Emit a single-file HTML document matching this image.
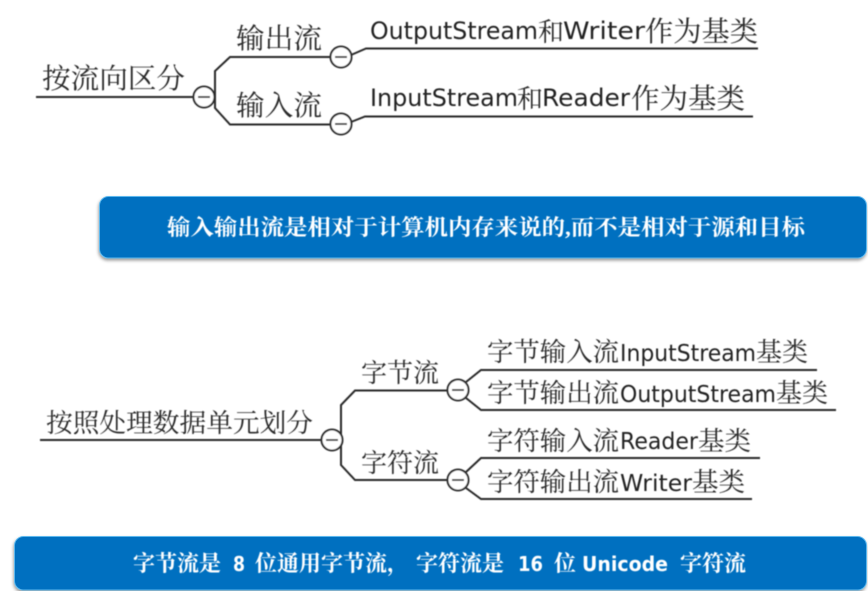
<!DOCTYPE html>
<html>
<head>
<meta charset="utf-8">
<style>
html,body{margin:0;padding:0;background:#fff;width:868px;height:591px;overflow:hidden}
svg{display:block}
.s{font-family:"Liberation Serif","Noto Serif CJK SC",serif;fill:#2a2a2a}
.m{font-family:"DejaVu Sans","Liberation Sans",sans-serif;fill:#222}
.w{font-family:"Liberation Serif","Noto Serif CJK SC",serif;fill:#fff;font-weight:bold}
.wl{font-family:"DejaVu Sans","Liberation Sans",sans-serif;fill:#fff;font-weight:bold}
.l{fill:none;stroke:#2a2a2a;stroke-width:2}
.c{fill:#fff;stroke:#2a2a2a;stroke-width:2}
.d{stroke:#444;stroke-width:2}
.box{fill:#0070c0;stroke:#5bb8ee;stroke-width:1}
</style>
</head>
<body>
<svg width="868" height="591" viewBox="0 0 868 591" xmlns="http://www.w3.org/2000/svg">
<defs>
<filter id="sh" x="-5%" y="-20%" width="110%" height="140%"><feDropShadow dx="-0.500" dy="2" stdDeviation="1.500" flood-color="#000" flood-opacity=".4"/></filter>
<filter id="b" x="-5%" y="-5%" width="110%" height="110%"><feGaussianBlur stdDeviation="0.400"/></filter>
</defs>

<g filter="url(#b)">
<!-- top mind map -->
<path class="l" d="M36 97H194"/>
<path class="l" d="M330 57H230L215 71V108L230 124.500H330"/>
<path class="l" d="M351 55L366 48.500H758"/>
<path class="l" d="M351 122L365 116.500H753"/>
<circle class="c" cx="204" cy="97" r="10.500"/><path class="d" d="M198 97H210"/>
<circle class="c" cx="341" cy="57" r="10.500"/><path class="d" d="M335 57H347"/>
<circle class="c" cx="341" cy="124" r="10.500"/><path class="d" d="M335 124H347"/>

<text class="s" x="42" y="88" font-size="28" textLength="143" lengthAdjust="spacingAndGlyphs">按流向区分</text>
<text class="s" x="236" y="48" font-size="28" textLength="86" lengthAdjust="spacingAndGlyphs">输出流</text>
<text class="s" x="236" y="115" font-size="28" textLength="86" lengthAdjust="spacingAndGlyphs">输入流</text>

<text class="m" x="370" y="39" font-size="24" textLength="168" lengthAdjust="spacingAndGlyphs">OutputStream</text>
<text class="s" x="538" y="41" font-size="26">和</text>
<text class="m" x="563" y="39" font-size="24" textLength="82" lengthAdjust="spacingAndGlyphs">Writer</text>
<text class="s" x="645" y="41" font-size="28" textLength="113" lengthAdjust="spacingAndGlyphs">作为基类</text>

<text class="m" x="370" y="106" font-size="24" textLength="148" lengthAdjust="spacingAndGlyphs">InputStream</text>
<text class="s" x="517" y="108" font-size="26">和</text>
<text class="m" x="542" y="106" font-size="24" textLength="88" lengthAdjust="spacingAndGlyphs">Reader</text>
<text class="s" x="631" y="108" font-size="28" textLength="114" lengthAdjust="spacingAndGlyphs">作为基类</text>

<!-- bottom mind map -->
<path class="l" d="M40 440H322"/>
<path class="l" d="M448 390.500H355L341 405V465L355 480H448"/>
<path class="l" d="M466 382L481 370H817"/>
<path class="l" d="M466 398L481 410H836"/>
<path class="l" d="M466 472L481 458H760"/>
<path class="l" d="M466 488L481 499H752"/>
<circle class="c" cx="332" cy="440" r="10.500"/><path class="d" d="M326 440H338"/>
<circle class="c" cx="458" cy="390" r="10.500"/><path class="d" d="M452 390H464"/>
<circle class="c" cx="458" cy="480" r="10.500"/><path class="d" d="M452 480H464"/>

<text class="s" x="46" y="432" font-size="26" textLength="267" lengthAdjust="spacingAndGlyphs">按照处理数据单元划分</text>
<text class="s" x="361" y="382" font-size="26" textLength="78" lengthAdjust="spacingAndGlyphs">字节流</text>
<text class="s" x="361" y="472" font-size="26" textLength="78" lengthAdjust="spacingAndGlyphs">字符流</text>

<text class="s" x="487" y="361" font-size="26" textLength="132" lengthAdjust="spacingAndGlyphs">字节输入流</text>
<text class="m" x="620" y="361" font-size="23" textLength="136" lengthAdjust="spacingAndGlyphs">InputStream</text>
<text class="s" x="756" y="361" font-size="26" textLength="52" lengthAdjust="spacingAndGlyphs">基类</text>

<text class="s" x="487" y="402" font-size="26" textLength="132" lengthAdjust="spacingAndGlyphs">字节输出流</text>
<text class="m" x="620" y="402" font-size="23" textLength="156" lengthAdjust="spacingAndGlyphs">OutputStream</text>
<text class="s" x="776" y="402" font-size="26" textLength="52" lengthAdjust="spacingAndGlyphs">基类</text>

<text class="s" x="487" y="450" font-size="26" textLength="132" lengthAdjust="spacingAndGlyphs">字符输入流</text>
<text class="m" x="620" y="449" font-size="23" textLength="78" lengthAdjust="spacingAndGlyphs">Reader</text>
<text class="s" x="698" y="450" font-size="26" textLength="53" lengthAdjust="spacingAndGlyphs">基类</text>

<text class="s" x="487" y="491" font-size="26" textLength="132" lengthAdjust="spacingAndGlyphs">字符输出流</text>
<text class="m" x="620" y="491" font-size="23" textLength="72" lengthAdjust="spacingAndGlyphs">Writer</text>
<text class="s" x="692" y="491" font-size="26" textLength="53" lengthAdjust="spacingAndGlyphs">基类</text>
</g>

<!-- banners -->
<rect class="box" x="99.500" y="196.500" width="767" height="61.500" rx="9" filter="url(#sh)"/>
<rect class="box" x="14.500" y="536.500" width="852" height="53.500" rx="9" filter="url(#sh)"/>

<g filter="url(#b)">
<text class="w" x="167" y="235" font-size="22" textLength="638" lengthAdjust="spacingAndGlyphs">输入输出流是相对于计算机内存来说的,而不是相对于源和目标</text>

<text class="w" x="133" y="571" font-size="22">字节流是</text>
<text class="wl" x="233" y="571" font-size="20" textLength="12" lengthAdjust="spacingAndGlyphs">8</text>
<text class="w" x="255" y="571" font-size="22">位通用字节流，</text>
<text class="w" x="416" y="571" font-size="22">字符流是</text>
<text class="wl" x="518" y="571" font-size="20" textLength="25" lengthAdjust="spacingAndGlyphs">16</text>
<text class="w" x="554" y="571" font-size="22">位</text>
<text class="wl" x="582" y="571" font-size="20" textLength="86" lengthAdjust="spacingAndGlyphs">Unicode</text>
<text class="w" x="680" y="571" font-size="22">字符流</text>
</g>
</svg>
</body>
</html>
